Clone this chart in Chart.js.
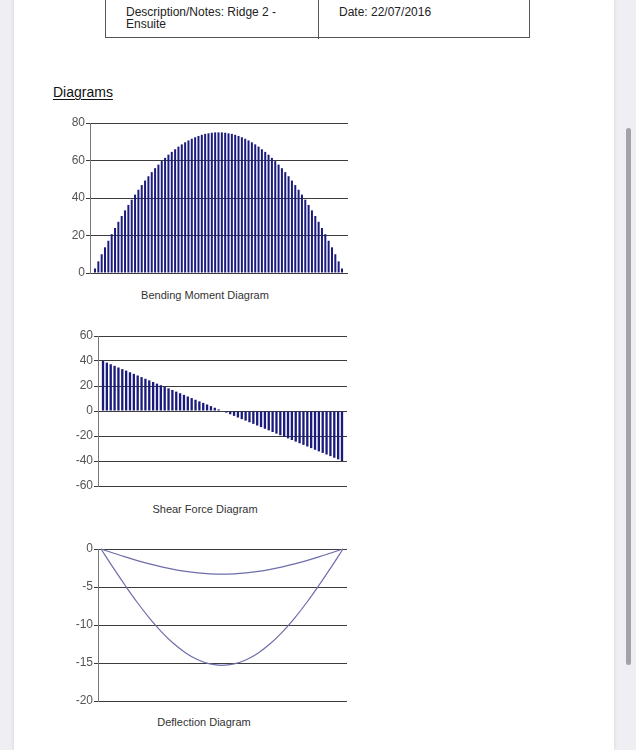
<!DOCTYPE html>
<html lang="en">
  <head>
    <meta charset="UTF-8" />
    <title>Diagrams</title>
    <style>
      html, body {
        margin: 0;
        width: 636px;
        height: 750px;
        overflow: hidden;
        background: #efeff3;
        font-family: 'Liberation Sans', Arial, sans-serif;
      }
      .page {
        position: absolute;
        left: 14px;
        top: 0;
        width: 600px;
        height: 750px;
        background: #fff;
        box-shadow: 0 0 4px rgba(0, 0, 0, 0.12);
      }
      .scrollbar {
        position: absolute;
        left: 626px;
        top: 128px;
        width: 5px;
        height: 537px;
        border-radius: 3px;
        background: #a2a2a8;
      }
      .info {
        position: absolute;
        left: 105px;
        top: -2px;
        width: 425px;
        height: 40px;
        border: 1px solid #555;
        box-sizing: border-box;
        font-size: 12px;
        line-height: 12px;
        color: #222;
      }
      .info .cell {
        position: absolute;
        top: 7px;
      }
      .info .divider {
        position: absolute;
        left: 212px;
        top: 0;
        width: 1px;
        height: 40px;
        background: #555;
      }
      .heading {
        position: absolute;
        left: 53px;
        top: 84px;
        font-size: 14px;
        color: #111;
        text-decoration: underline;
        text-underline-offset: 2px;
      }
      canvas {
        position: absolute;
      }
      .caption {
        position: absolute;
        width: 200px;
        text-align: center;
        font-size: 11px;
        color: #333;
      }
    </style>
  </head>
  <body>
    <div class="page"></div>
    <div class="scrollbar"></div>

    <div class="info">
      <div class="cell" style="left: 20px">Description/Notes: Ridge 2 -<br />Ensuite</div>
      <div class="divider"></div>
      <div class="cell" style="left: 233px">Date: 22/07/2016</div>
    </div>

    <div class="heading">Diagrams</div>

    <canvas id="moment" width="320" height="175" style="left: 40px; top: 110px"></canvas>
    <div class="caption" style="left: 105px; top: 289px">Bending Moment Diagram</div>

    <canvas id="shear" width="320" height="180" style="left: 40px; top: 320px"></canvas>
    <div class="caption" style="left: 105px; top: 503px">Shear Force Diagram</div>

    <canvas id="deflection" width="320" height="185" style="left: 40px; top: 530px"></canvas>
    <div class="caption" style="left: 104px; top: 716px">Deflection Diagram</div>

    <script src="https://cdn.jsdelivr.net/npm/chart.js"></script>

    <script>
      // Bending moment (75 stations along the beam)
      const momentValues = [
        2.4, 6.2, 10.0, 13.7, 17.2, 20.7, 24.0, 27.3, 30.4, 33.4, 36.3, 39.1,
        41.8, 44.4, 46.9, 49.3, 51.6, 53.8, 55.9, 57.8, 59.7, 61.4, 63.1, 64.6,
        66.0, 67.4, 68.6, 69.7, 70.7, 71.6, 72.4, 73.1, 73.7, 74.2, 74.5, 74.8,
        75.0, 75.0, 75.0, 74.8, 74.5, 74.2, 73.7, 73.1, 72.4, 71.6, 70.7, 69.7,
        68.6, 67.4, 66.0, 64.6, 63.1, 61.4, 59.7, 57.8, 55.9, 53.8, 51.6, 49.3,
        46.9, 44.4, 41.8, 39.1, 36.3, 33.4, 30.4, 27.3, 24.0, 20.7, 17.2, 13.7,
        10.0, 6.2, 2.4,
      ];
      const momentTicks = [0, 20, 40, 60, 80];

      // Shear force (63 stations)
      const shearValues = [
        40.0, 38.7, 37.4, 36.1, 34.8, 33.5, 32.3, 31.0, 29.7, 28.4, 27.1, 25.8,
        24.5, 23.2, 21.9, 20.6, 19.4, 18.1, 16.8, 15.5, 14.2, 12.9, 11.6, 10.3,
        9.0, 7.7, 6.5, 5.2, 3.9, 2.6, 1.3, 0,
        -1.3, -2.6, -3.9, -5.2, -6.5, -7.7, -9.0, -10.3, -11.6, -12.9, -14.2,
        -15.5, -16.8, -18.1, -19.4, -20.6, -21.9, -23.2, -24.5, -25.8, -27.1,
        -28.4, -29.7, -31.0, -32.3, -33.5, -34.8, -36.1, -37.4, -38.7, -40.0,
      ];
      const shearTicks = [-60, -40, -20, 0, 20, 40, 60];

      // Deflection (21 stations, two curves)
      const deflectionLong = [
        0, -2.44, -4.8, -7.04, -9.09, -10.9, -12.44, -13.67, -14.57, -15.12,
        -15.3, -15.12, -14.57, -13.67, -12.44, -10.9, -9.09, -7.04, -4.8,
        -2.44, 0,
      ];
      const deflectionShort = [
        0, -0.53, -1.04, -1.52, -1.96, -2.35, -2.68, -2.95, -3.14, -3.26, -3.3,
        -3.26, -3.14, -2.95, -2.68, -2.35, -1.96, -1.52, -1.04, -0.53, 0,
      ];
      const deflectionTicks = [-20, -15, -10, -5, 0];

      const barColor = '#1b1b7e';
      const lineColor = '#6d6daa';
      const gridColor = '#3c3c3c';

      function toPoints(values) {
        return values.map((y, x) => ({ x, y }));
      }

      function yScale(min, max, step, axisWidth) {
        return {
          min,
          max,
          ticks: {
            stepSize: step,
            padding: 1,
            color: '#555',
            font: { family: "'Liberation Sans', Arial", size: 12 },
          },
          grid: { color: gridColor, lineWidth: 1, tickLength: 4 },
          border: { color: '#777', width: 1 },
          afterFit: (scale) => {
            scale.width = axisWidth;
          },
        };
      }

      function createBarChart(ctx, { values, min, max, step, xMin, xMax, axisWidth, padding }) {
        return new Chart(ctx, {
          type: 'bar',
          data: {
            datasets: [
              {
                data: toPoints(values),
                backgroundColor: barColor,
                borderWidth: 0,
                categoryPercentage: 1,
                barPercentage: 0.6,
              },
            ],
          },
          options: {
            responsive: false,
            animation: false,
            devicePixelRatio: 1,
            layout: { padding },
            plugins: { legend: { display: false }, tooltip: { enabled: false } },
            scales: {
              x: { type: 'linear', display: false, offset: false, min: xMin, max: xMax },
              y: yScale(min, max, step, axisWidth),
            },
          },
        });
      }

      createBarChart(document.getElementById('moment'), {
        values: momentValues,
        min: momentTicks[0],
        max: momentTicks[momentTicks.length - 1],
        step: 20,
        xMin: -1.5,
        xMax: 75.8,
        axisWidth: 50,
        padding: { left: 0, top: 13, right: 12, bottom: 12 },
      });

      createBarChart(document.getElementById('shear'), {
        values: shearValues,
        min: shearTicks[0],
        max: shearTicks[shearTicks.length - 1],
        step: 20,
        xMin: -1.3,
        xMax: 63.3,
        axisWidth: 58,
        padding: { left: 0, top: 16, right: 13, bottom: 14 },
      });

      new Chart(document.getElementById('deflection'), {
        type: 'line',
        data: {
          datasets: [
            {
              data: toPoints(deflectionShort),
              borderColor: lineColor,
              borderWidth: 1.2,
              pointRadius: 0,
              tension: 0.4,
              clip: false,
            },
            {
              data: toPoints(deflectionLong),
              borderColor: lineColor,
              borderWidth: 1.2,
              pointRadius: 0,
              tension: 0.4,
              clip: false,
            },
          ],
        },
        options: {
          responsive: false,
          animation: false,
          devicePixelRatio: 1,
          layout: { padding: { left: 0, top: 19, right: 13, bottom: 14 } },
          plugins: { legend: { display: false }, tooltip: { enabled: false } },
          scales: {
            x: { type: 'linear', display: false, min: -0.25, max: 20.33 },
            y: yScale(deflectionTicks[0], deflectionTicks[deflectionTicks.length - 1], 5, 58),
          },
        },
      });
    </script>
  </body>
</html>
